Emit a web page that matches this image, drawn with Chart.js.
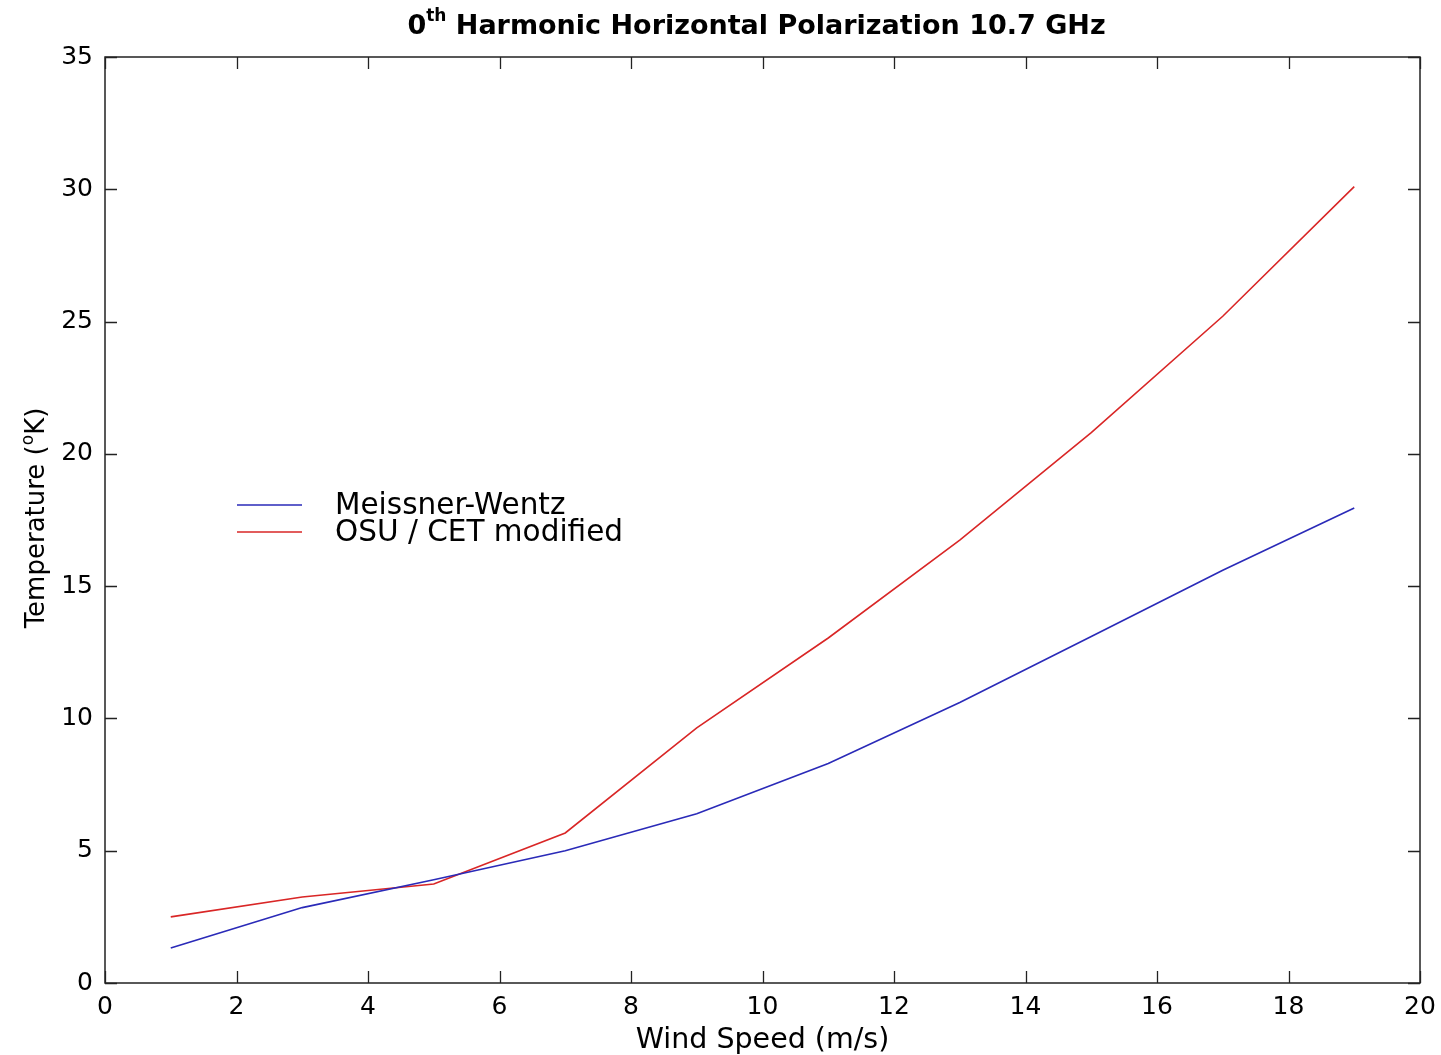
<!DOCTYPE html>
<html>
<head>
<meta charset="utf-8">
<script src="https://cdn.jsdelivr.net/npm/chart.js@4.4.1/dist/chart.umd.min.js"></script>
<style>
  html, body { margin: 0; padding: 0; background: #fff; }
  #wrap { width: 1441px; height: 1055px; }
</style>
</head>
<body>
<div id="wrap"><canvas id="c" width="1441" height="1055"></canvas></div>
<script>
// ---- Data ----
const windSpeed = [1, 3, 5, 7, 9, 11, 13, 15, 17, 19];
const meissnerWentz = [1.32, 2.85, 3.9, 5.0, 6.4, 8.3, 10.6, 13.1, 15.6, 17.95];
const osuCetModified = [2.5, 3.25, 3.74, 5.67, 9.64, 13.04, 16.74, 20.8, 25.2, 30.1];
const seriesNames = ['Meissner-Wentz', 'OSU / CET modified'];
const seriesColors = ['#2a2ab8', '#d92626'];
const titleMain = ' Harmonic Horizontal Polarization 10.7 GHz';
const titleLead = '0';
const titleSup = 'th';
const xAxisTitle = 'Wind Speed (m/s)';
const yAxisTitleParts = ['Temperature (', 'o', 'K)'];

const FONT = '"DejaVu Sans", sans-serif';

const decorPlugin = {
  id: 'decor',
  afterDraw(chart) {
    const ctx = chart.ctx;
    const { left, right, top, bottom } = chart.chartArea;
    const xs = chart.scales.x, ys = chart.scales.y;
    ctx.save();
    // frame
    ctx.strokeStyle = '#222';
    ctx.lineWidth = 1.5;
    ctx.strokeRect(left, top, right - left, bottom - top);
    // inward ticks on all sides
    const tl = 12;
    ctx.beginPath();
    xs.ticks.forEach(t => {
      const px = Math.round(xs.getPixelForValue(t.value)) + 0.5;
      ctx.moveTo(px, bottom); ctx.lineTo(px, bottom - tl);
      ctx.moveTo(px, top); ctx.lineTo(px, top + tl);
    });
    ys.ticks.forEach(t => {
      const py = Math.round(ys.getPixelForValue(t.value)) + 0.5;
      ctx.moveTo(left, py); ctx.lineTo(left + tl, py);
      ctx.moveTo(right, py); ctx.lineTo(right - tl, py);
    });
    ctx.lineWidth = 1.3;
    ctx.stroke();

    // title with superscript
    ctx.fillStyle = '#000';
    ctx.textBaseline = 'alphabetic';
    const bigF = 'bold 27px ' + FONT, supF = 'bold 17px ' + FONT;
    ctx.font = bigF; const w0 = ctx.measureText(titleLead).width;
    const w2 = ctx.measureText(titleMain).width;
    ctx.font = supF; const w1 = ctx.measureText(titleSup).width;
    const total = w0 + w1 + w2;
    let tx = (left + right) / 2 - 6 - total / 2;
    const ty = 34;
    ctx.textAlign = 'left';
    ctx.font = bigF; ctx.fillText(titleLead, tx, ty); tx += w0;
    ctx.font = supF; ctx.fillText(titleSup, tx, ty - 13); tx += w1;
    ctx.font = bigF; ctx.fillText(titleMain, tx, ty);

    // y axis title with superscript o
    const yf = '26px ' + FONT, ysf = '17px ' + FONT;
    ctx.font = yf; const a = ctx.measureText(yAxisTitleParts[0]).width;
    const c = ctx.measureText(yAxisTitleParts[2]).width;
    ctx.font = ysf; const b = ctx.measureText(yAxisTitleParts[1]).width;
    const yw = a + b + c;
    ctx.translate(44, 518);
    ctx.rotate(-Math.PI / 2);
    let ox = -yw / 2;
    ctx.font = yf; ctx.fillText(yAxisTitleParts[0], ox, 0); ox += a;
    ctx.font = ysf; ctx.fillText(yAxisTitleParts[1], ox, -11); ox += b;
    ctx.font = yf; ctx.fillText(yAxisTitleParts[2], ox, 0);
    ctx.setTransform(1, 0, 0, 1, 0, 0);

    // legend inside plot
    const lf = '29.5px ' + FONT;
    ctx.font = lf;
    ctx.textBaseline = 'middle';
    chart.data.datasets.forEach((ds, i) => {
      const ly = 505 + i * 27;
      ctx.strokeStyle = ds.borderColor;
      ctx.lineWidth = 1.5;
      ctx.beginPath(); ctx.moveTo(237, ly); ctx.lineTo(302, ly); ctx.stroke();
      ctx.fillStyle = '#000';
      ctx.fillText(ds.label, 335, ly + 1);
    });
    ctx.restore();
  }
};

new Chart(document.getElementById('c'), {
  type: 'line',
  data: {
    datasets: [
      { label: seriesNames[0], data: windSpeed.map((x, i) => ({ x, y: meissnerWentz[i] })),
        borderColor: seriesColors[0], borderWidth: 1.6, pointRadius: 0, tension: 0, fill: false },
      { label: seriesNames[1], data: windSpeed.map((x, i) => ({ x, y: osuCetModified[i] })),
        borderColor: seriesColors[1], borderWidth: 1.6, pointRadius: 0, tension: 0, fill: false }
    ]
  },
  options: {
    responsive: false,
    animation: false,
    layout: { padding: { top: 57, right: 21, left: 0, bottom: 0 } },
    plugins: { legend: { display: false }, title: { display: false }, tooltip: { enabled: false } },
    scales: {
      x: {
        type: 'linear', min: 0, max: 20,
        ticks: { stepSize: 2, color: '#000', font: { family: FONT, size: 25 }, padding: 9, maxRotation: 0 },
        grid: { display: false, drawTicks: false },
        border: { display: false },
        title: { display: true, text: xAxisTitle, color: '#000', font: { family: FONT, size: 28.5 }, padding: { top: 0, bottom: -3 } },
        afterFit(s) { s.height = 72; s.paddingLeft = 0; s.paddingRight = 0; }
      },
      y: {
        type: 'linear', min: 0, max: 35,
        ticks: { stepSize: 5, color: '#000', font: { family: FONT, size: 25 }, padding: 12 },
        grid: { display: false, drawTicks: false },
        border: { display: false },
        afterFit(s) { s.width = 105; s.paddingTop = 0; s.paddingBottom = 0; }
      }
    }
  },
  plugins: [decorPlugin]
});
</script>
</body>
</html>
